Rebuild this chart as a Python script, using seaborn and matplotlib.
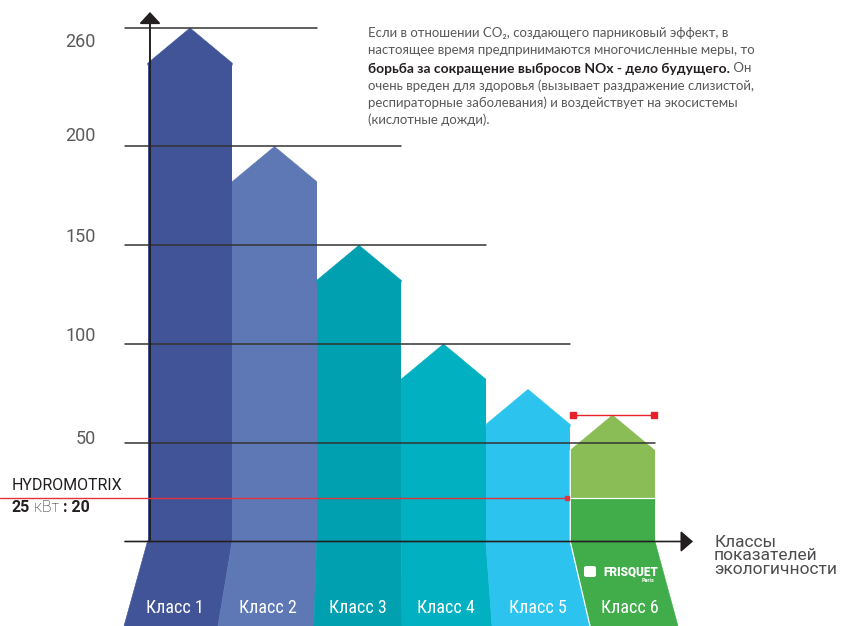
import numpy as np
import pandas as pd
import matplotlib
matplotlib.use('Agg')
import matplotlib.pyplot as plt
import seaborn as sns
from matplotlib.patches import FancyBboxPatch

sns.set_theme(style="white")
plt.rcParams['font.family'] = ['Roboto', 'DejaVu Sans']

# --- data ---
classes = ['Класс 1', 'Класс 2', 'Класс 3', 'Класс 4', 'Класс 5', 'Класс 6']
nox_peak = [260, 200, 150, 100, 77, 64]
class_colors = ['#415497', '#5e78b5', '#00a0b1', '#01b0c1', '#2cc3ee', '#8abd56']
class6_low_color = '#40ac4a'
hydromotrix_value = 22
grid_values = [260, 200, 150, 100, 50]
tick_labels = ['260', '200', '150', '100', '50']

paragraph = [
    'Если в отношении CO₂, создающего парниковый эффект, в',
    'настоящее время предпринимаются многочисленные меры, то',
    None,
    'очень вреден для здоровья (вызывает раздражение слизистой,',
    'респираторные заболевания) и воздействует на экосистемы',
    '(кислотные дожди).',
]
bold_part = 'борьба за сокращение выбросов NOx - дело будущего.'
after_bold = ' Он'

# --- layout (pixels of an 841x626 canvas) ---
W, H = 841, 626
X0, XW = 190.0, 84.5          # centre of class 1, width of one class
Y0, YS = 541.5, 1.975         # baseline pixel, pixels per unit
HEAD = 17.8                   # height of the arrow head on each bar
bottom_edges = [-0.781, 0.331, 1.467, 2.509, 3.574, 4.734, 5.775]
grid_ends = [1.5, 2.5, 3.5, 4.5, 5.5]
grid_left = (125 - X0) / XW
ymin, ymax = (Y0 - H) / YS, Y0 / YS
xmin, xmax = -X0 / XW, (W - X0) / XW
dark = '#231f20'
gray = '#58595b'
para_font = ['Lato', 'Roboto', 'DejaVu Sans']
cond_font = ['Roboto Condensed', 'Liberation Sans Narrow', 'Roboto', 'DejaVu Sans']


def fp(x, y):
    return x / W, 1 - y / H


fig = plt.figure(figsize=(W / 100, H / 100), dpi=100)
ax = fig.add_axes([0, 0, 1, 1])

df = pd.DataFrame({'klass': classes, 'body': [p - HEAD for p in nox_peak]})
sns.barplot(data=df, x='klass', y='body', hue='klass', palette=class_colors,
            width=1.0, saturation=1, legend=False, linewidth=0, ax=ax)

n = len(classes)
for i, (p, c) in enumerate(zip(nox_peak, class_colors)):
    s = p - HEAD
    ax.fill([i - 0.5, i - 0.5, i, i + 0.5, i + 0.5], [s - 1, s, p, s, s - 1],
            color=c, lw=0.4, ec=c, zorder=1)
    low = class6_low_color if i == n - 1 else c
    ax.fill([i - 0.5, i + 0.5, bottom_edges[i + 1], bottom_edges[i]],
            [0.5, 0.5, ymin, ymin], color=low, lw=0.4, ec=low, zorder=1)

# lower part of class 6 (Frisquet value)
ax.fill([n - 1.5, n - 0.5, n - 0.5, n - 1.5], [0, 0, hydromotrix_value, hydromotrix_value],
        color=class6_low_color, lw=0, zorder=1.5)
ax.plot([n - 1.5, n - 0.5], [hydromotrix_value, hydromotrix_value], color='white', lw=0.9, zorder=1.6)
ax.plot([n - 1.5, n - 1.5, bottom_edges[n - 1]],
        [nox_peak[-1] - HEAD, 0, ymin], color='white', lw=0.9, zorder=1.6)

# gridlines
for v, xe in zip(grid_values, grid_ends):
    ax.plot([grid_left, xe], [v, v], color='#333333', lw=1.1, zorder=3)
for v, lab, dy in zip(grid_values, tick_labels, [14, -10.5, -8, -8, -3.5]):
    fig.text(*fp(96, Y0 - v * YS + dy), lab, ha='right', va='center',
             fontsize=13, color='#5a5a5c')

# axes with arrows
ya = (150 - X0) / XW
ax.annotate('', xy=(ya, (Y0 - 12) / YS), xytext=(ya, 0),
            arrowprops=dict(arrowstyle='-|>,head_length=0.7,head_width=0.65',
                            color=dark, lw=1.4, shrinkA=0, shrinkB=0, mutation_scale=10),
            zorder=4)
ax.annotate('', xy=((693 - X0) / XW, 0), xytext=(grid_left, 0),
            arrowprops=dict(arrowstyle='-|>,head_length=0.75,head_width=0.65',
                            color=dark, lw=1.2, shrinkA=0, shrinkB=0, mutation_scale=10),
            zorder=4)

# red markers
red = '#e2323c'
hx = (567 - X0) / XW
ax.plot([xmin, hx], [hydromotrix_value, hydromotrix_value], color=red, lw=1.0, zorder=4)
ax.plot([hx], [hydromotrix_value], 's', color=red, ms=3, zorder=4)
tx = [(573 - X0) / XW, (654 - X0) / XW]
ax.plot(tx, [nox_peak[-1]] * 2, color='#e8202a', lw=1.0, zorder=4)
ax.plot(tx, [nox_peak[-1]] * 2, 's', color='#e8202a', ms=4.5, zorder=4)

# class labels under the baseline
y_lab = (Y0 - 608) / YS
frac = y_lab / ymin
for i, lab in enumerate(classes):
    l = (i - 0.5) + frac * (bottom_edges[i] - (i - 0.5))
    r = (i + 0.5) + frac * (bottom_edges[i + 1] - (i + 0.5))
    ax.text((l + r) / 2, y_lab, lab, ha='center', va='center',
            color='white', fontsize=13, family=cond_font, zorder=5)

# Frisquet logo
ax.text((631 - X0) / XW, (Y0 - 571.5) / YS, 'FRISQUET', ha='center', va='center',
        color='white', fontsize=8.5, fontweight='heavy', zorder=5)
ax.text((648 - X0) / XW, (Y0 - 580) / YS, 'Paris', ha='center', va='center',
        color='white', fontsize=4, fontweight='bold', zorder=5)
icon = FancyBboxPatch(fp(584, 577), 12 / W, 11 / H, boxstyle='round,pad=0,rounding_size=0.003',
                      transform=fig.transFigure, fc='white', ec='none', zorder=5)
fig.patches.append(icon)
fig.lines.append(plt.Line2D([588 / W, 592 / W], [1 - 576 / H, 1 - 567 / H],
                            transform=fig.transFigure, color=class6_low_color, lw=1.2))

# texts
fig.text(*fp(12, 486), 'HYDROMOTRIX', ha='left', va='center', fontsize=11.5, color=dark)
t25 = fig.text(*fp(12, 507), '25', ha='left', va='center', fontsize=11.5,
               color=dark, fontweight='bold')
tk = ax.annotate(' кВт ', xy=(1, 0.5), xycoords=t25, va='center', ha='left',
                 fontsize=11.5, color=dark, fontweight='light')
ax.annotate(': 20', xy=(1, 0.5), xycoords=tk, va='center', ha='left',
            fontsize=11.5, color=dark, fontweight='bold')

fig.text(*fp(714, 556), 'Классы\nпоказателей\nэкологичности', ha='left', va='center',
         fontsize=12.5, color='#4d4d4f', linespacing=0.9)

line_y = [33, 50, 68.5, 86, 103, 120]
for txt, yy in zip(paragraph, line_y):
    if txt is None:
        tb = fig.text(*fp(368, yy), bold_part, ha='left', va='center', fontsize=10,
                      color=dark, fontweight='bold', family=para_font)
        ax.annotate(after_bold, xy=(1, 0.5), xycoords=tb, ha='left', va='center',
                    fontsize=9.5, color=gray, family=para_font)
    else:
        fig.text(*fp(368, yy), txt, ha='left', va='center', fontsize=9.5, color=gray,
                 family=para_font)

ax.set_xlim(xmin, xmax)
ax.set_ylim(ymin, ymax)
ax.axis('off')

fig.savefig('out.png', dpi=100)
